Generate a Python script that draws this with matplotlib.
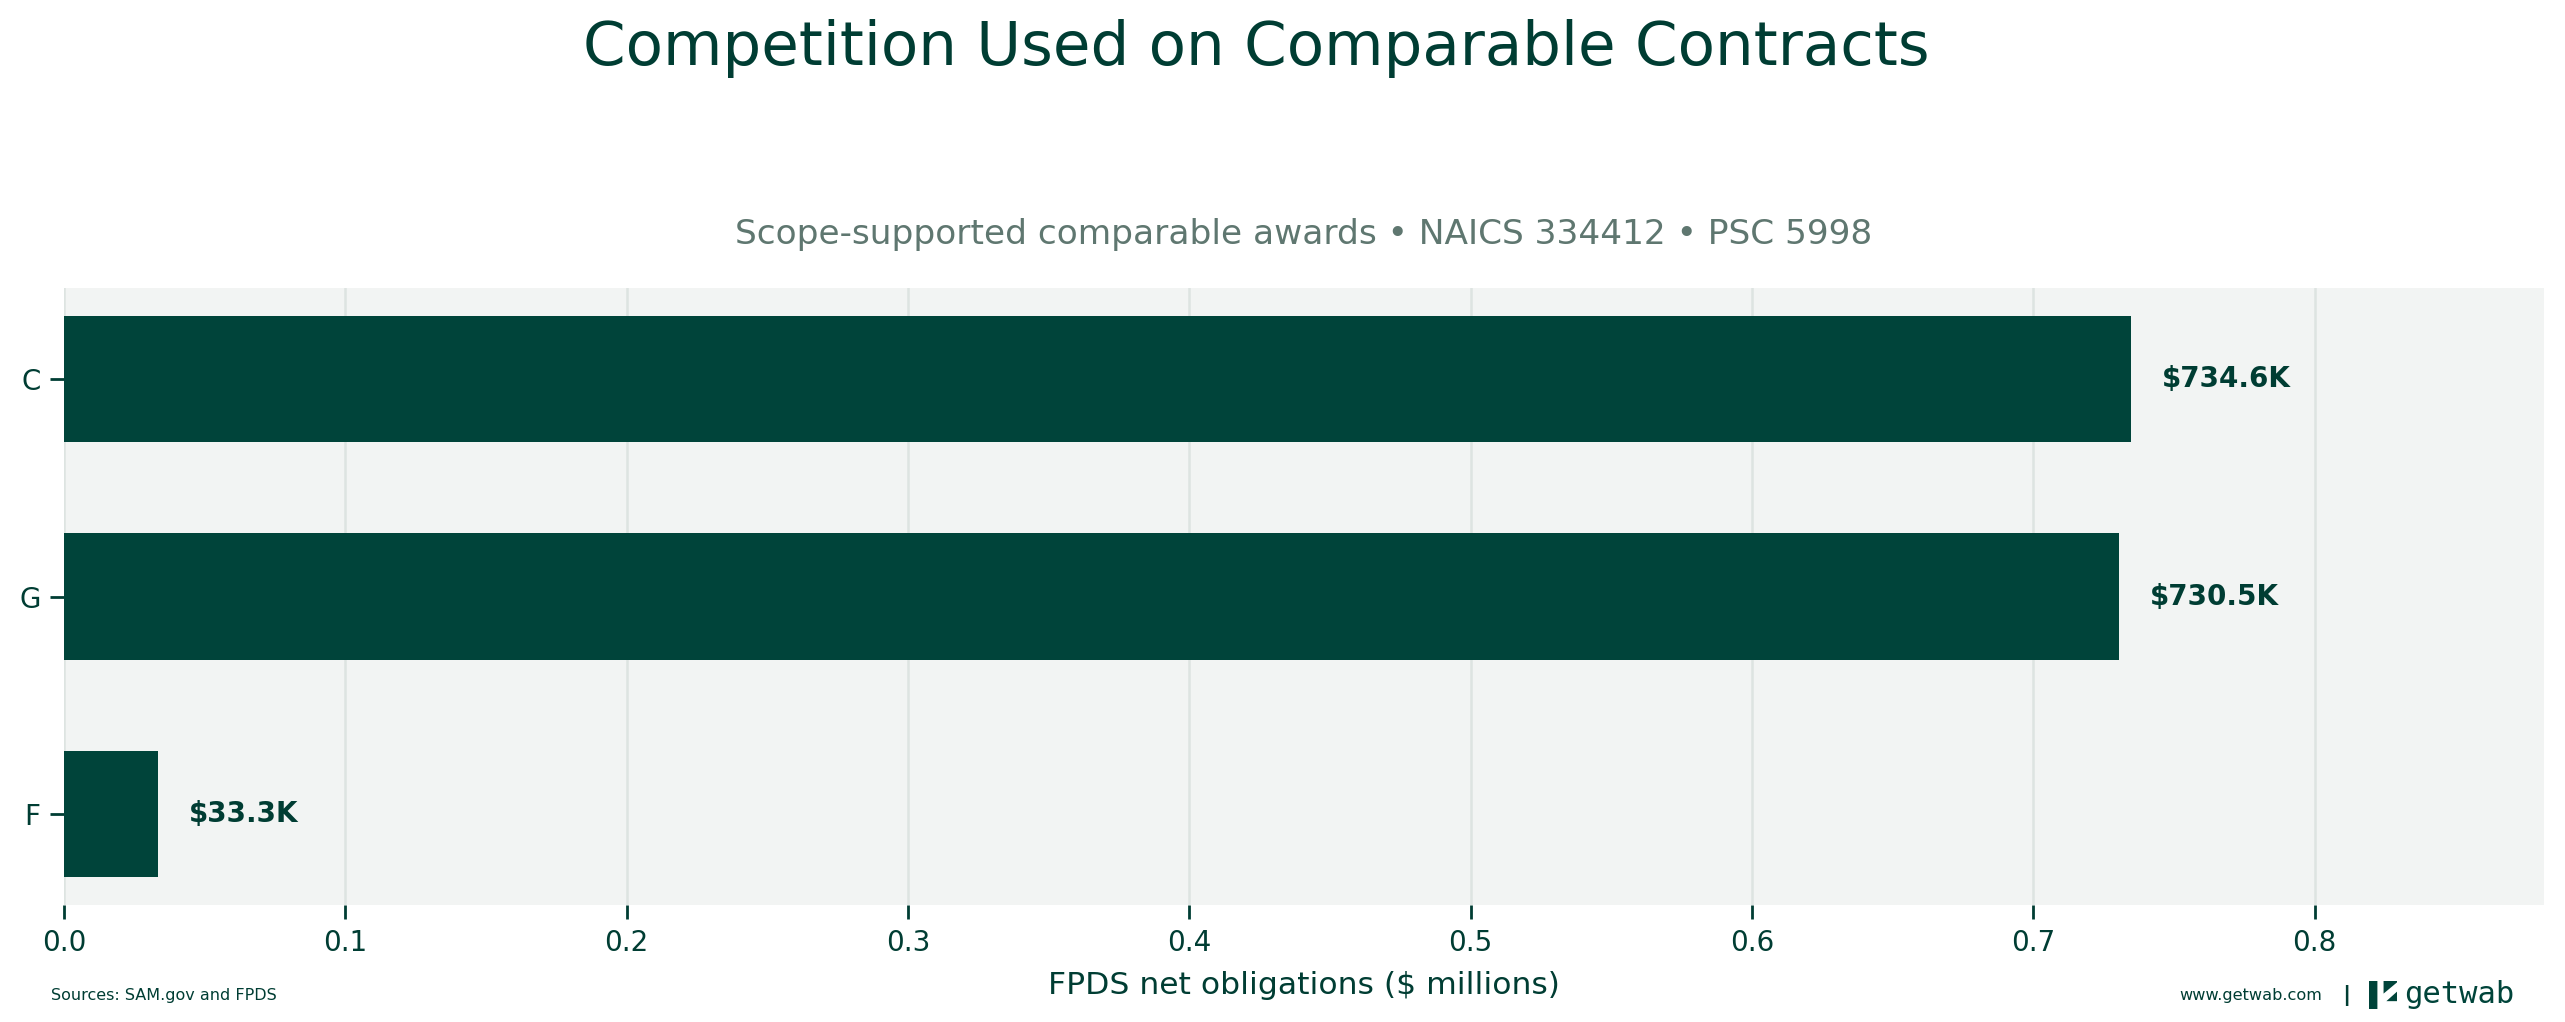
import matplotlib
matplotlib.use("Agg")
import matplotlib.pyplot as plt
from matplotlib.patches import Rectangle, Polygon

categories = ["C", "G", "F"]
values_m = [0.7346, 0.7305, 0.0333]
labels = ["$734.6K", "$730.5K", "$33.3K"]
xticks = [0.0, 0.1, 0.2, 0.3, 0.4, 0.5, 0.6, 0.7, 0.8]

DARK = "#00443a"
TXT = "#003d33"
SUB = "#5f7770"
BG = "#f2f4f3"
GRID = "#dde4e1"

plt.rcParams["font.family"] = ["DejaVu Sans"]
W, H = 2565, 1022
fig = plt.figure(figsize=(W / 200, H / 200), dpi=200)
fig.patch.set_facecolor("white")
ax = fig.add_axes([64 / W, 1 - 905 / H, (2544 - 64) / W, (905 - 288) / H])
ax.set_facecolor(BG)

ypos = list(range(len(categories)))[::-1]
ax.barh(ypos, values_m, height=0.58, color=DARK, zorder=3)
xmax = max(values_m) * 1.2
ax.set_xlim(0, xmax)
ax.set_ylim(-0.419, 2.419)
for y, v, lab in zip(ypos, values_m, labels):
    ax.text(v + xmax * 0.0125, y, lab, va="center", ha="left",
            fontsize=10, fontweight="bold", color=TXT, zorder=4)

ax.set_yticks(ypos)
ax.set_yticklabels(categories)
ax.set_xticks(xticks)
ax.set_xticklabels([f"{t:.1f}" for t in xticks])
ax.tick_params(colors=TXT, labelsize=10, length=5, width=1)
ax.grid(axis="x", color=GRID, linewidth=0.9, zorder=0)
ax.set_axisbelow(True)
for s in ax.spines.values():
    s.set_visible(False)

ax.set_xlabel("FPDS net obligations ($ millions)", fontsize=11.3, color=TXT, labelpad=5)
ax.set_title("Scope-supported comparable awards • NAICS 334412 • PSC 5998",
             fontsize=12.4, color=SUB, pad=16)
fig.text(1256 / W, 1 - 49 / H, "Competition Used on Comparable Contracts",
         ha="center", va="center", fontsize=22, color=TXT)

fig.text(51 / W, 1 - 995 / H, "Sources: SAM.gov and FPDS", ha="left", va="center",
         fontsize=5.75, color=TXT)
fig.text(2322 / W, 1 - 995 / H, "www.getwab.com", ha="right", va="center",
         fontsize=5.8, color=TXT)
fig.text(2346 / W, 1 - 996 / H, "|", ha="center", va="center",
         fontsize=8, color=TXT, fontweight="bold")
# logo icon
x0, y0, s = 2369 / W, 1 - 1009 / H, 28 / W
sh = 28 / H
fig.patches.append(Rectangle((x0, y0), s, sh, transform=fig.transFigure,
                             facecolor=DARK, edgecolor="none"))
fig.patches.append(Polygon([(x0 + s * 0.30, y0 + sh * 1.0), (x0 + s * 0.52, y0 + sh * 1.0),
                            (x0 + s * 0.52, y0 + sh * 0.55), (x0 + s * 1.0, y0 + sh * 0.95),
                            (x0 + s * 1.0, y0 + sh * 0.62), (x0 + s * 0.62, y0 + sh * 0.28),
                            (x0 + s * 1.0, y0 + sh * 0.28), (x0 + s * 1.0, y0),
                            (x0 + s * 0.30, y0)],
                           closed=True, transform=fig.transFigure,
                           facecolor="white", edgecolor="none"))
fig.text(2404 / W, 1 - 994 / H, "getwab", ha="left", va="center",
         fontsize=11, color=DARK, family=["DejaVu Sans Mono"])

fig.savefig("out.png", dpi=200)
